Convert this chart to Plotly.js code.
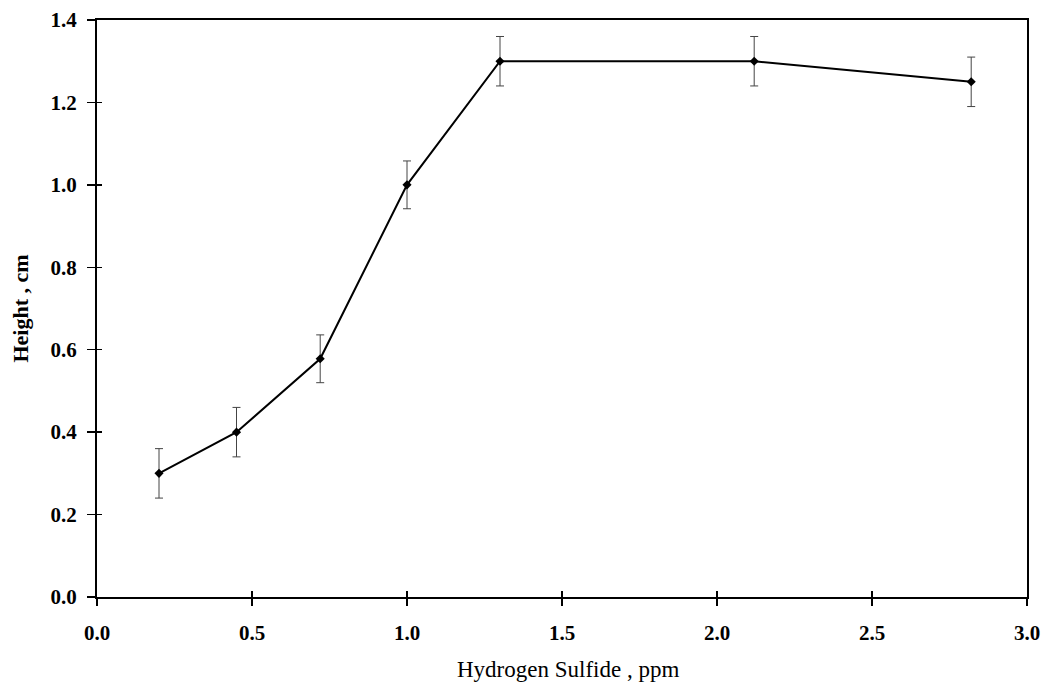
<!DOCTYPE html>
<html>
<head>
<meta charset="utf-8">
<script src="https://cdn.plot.ly/plotly-3.0.1.min.js"></script>
<style>html,body{margin:0;padding:0;background:#fff;}#chart{width:1043px;height:686px;}</style>
</head>
<body>
<div id="chart"></div>
<script>
const h2sPpm = [0.2, 0.45, 0.72, 1.0, 1.3, 2.12, 2.82];
const heightCm = [0.30, 0.40, 0.578, 1.0, 1.30, 1.30, 1.25];
const heightErr = [0.06, 0.06, 0.058, 0.058, 0.06, 0.06, 0.06];
const xTicks = [0, 0.5, 1.0, 1.5, 2.0, 2.5, 3.0];
const yTicks = [0, 0.2, 0.4, 0.6, 0.8, 1.0, 1.2, 1.4];
const xTitle = 'Hydrogen Sulfide , ppm';
const yTitle = 'Height , cm';

const serif = "Liberation Serif, Times New Roman, serif";

const traces = [
  {
    x: h2sPpm, y: heightCm, type: 'scatter', mode: 'lines+markers',
    line: {color: '#000', width: 2},
    marker: {symbol: 'diamond', size: 7, color: '#000'},
    error_y: {type: 'data', array: heightErr, visible: true, color: '#444', thickness: 1, width: 4},
    hoverinfo: 'x+y', showlegend: false
  },
  {
    x: h2sPpm, y: heightCm, type: 'scatter', mode: 'none',
    xaxis: 'x2', yaxis: 'y2', hoverinfo: 'skip', showlegend: false
  }
];

const tickFont = {family: serif, size: 21, color: '#000', weight: 'bold'};

const layout = {
  width: 1043, height: 686,
  margin: {l: 97, r: 16, t: 20, b: 89},
  paper_bgcolor: '#fff', plot_bgcolor: '#fff',
  showlegend: false,
  xaxis: {
    range: [0, 3.0], tickvals: xTicks, ticktext: xTicks.map(v => v.toFixed(1)),
    ticks: 'outside', ticklen: 7, tickwidth: 1.5, tickcolor: '#000',
    showline: true, linecolor: '#000', linewidth: 2, mirror: true,
    showgrid: false, zeroline: false,
    tickfont: tickFont, ticklabelstandoff: 9
  },
  yaxis: {
    range: [0, 1.4], tickvals: yTicks, ticktext: yTicks.map(v => v.toFixed(1)),
    ticks: 'outside', ticklen: 8, tickwidth: 1.5, tickcolor: '#000',
    showline: true, linecolor: '#000', linewidth: 2, mirror: true,
    showgrid: false, zeroline: false,
    tickfont: tickFont, ticklabelstandoff: 6,
    title: {text: yTitle, font: {family: serif, size: 22, color: '#000', weight: 'bold'}, standoff: 16}
  },
  xaxis2: {
    overlaying: 'x', anchor: 'y2', side: 'bottom', range: [0, 3.0], tickvals: xTicks,
    ticks: 'inside', ticklen: 6, tickwidth: 1.5, tickcolor: '#000',
    showticklabels: false, showline: false, showgrid: false, zeroline: false
  },
  yaxis2: {
    overlaying: 'y', anchor: 'x2', side: 'left', range: [0, 1.4], tickvals: yTicks,
    ticks: 'inside', ticklen: 5, tickwidth: 1.5, tickcolor: '#000',
    showticklabels: false, showline: false, showgrid: false, zeroline: false
  },
  annotations: [{
    text: xTitle, xref: 'paper', yref: 'paper', x: 0.5065, y: -0.126,
    xanchor: 'center', yanchor: 'middle', showarrow: false,
    font: {family: serif, size: 23, color: '#000'}
  }]
};

Plotly.newPlot('chart', traces, layout, {displayModeBar: false, staticPlot: true});
</script>
</body>
</html>
